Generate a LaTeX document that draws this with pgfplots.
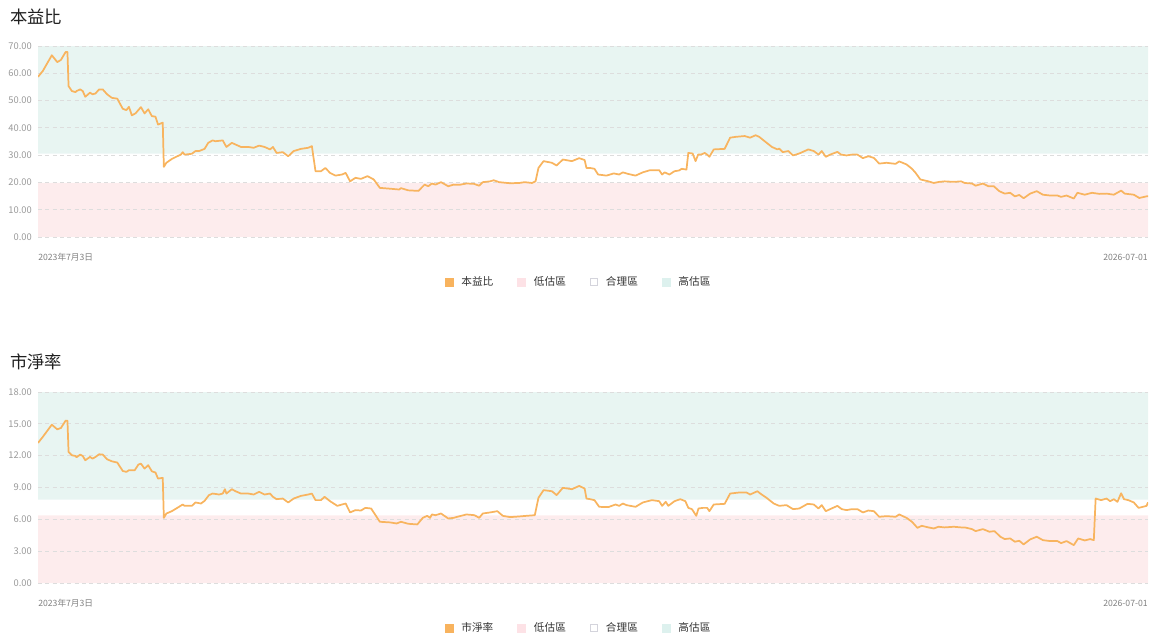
\documentclass[border=0pt]{standalone}
\usepackage{fontspec}
\setmainfont{Noto Sans CJK TC}
\usepackage{pgfplots}
\usepackage{pgfplotstable}
\pgfplotsset{compat=1.18}
\definecolor{lineorange}{HTML}{F8B45F}
\definecolor{greenband}{HTML}{E8F5F2}
\definecolor{pinkband}{HTML}{FDECED}
\definecolor{gridgray}{HTML}{DDDDDD}
\definecolor{tickgray}{HTML}{999999}
\definecolor{labgray}{HTML}{808080}
\definecolor{legtext}{HTML}{333333}
\definecolor{legorange}{HTML}{F8B35E}
\definecolor{legpink}{HTML}{FDE2E6}
\definecolor{leggreen}{HTML}{DDF1EE}
\definecolor{legborder}{HTML}{D4D4DC}

\pgfplotstableread{
x y
22 58.7
35 60.8
60 66.6
75 64.1
85 64.9
98 67.8
103 67.8
106 55.3
115 53.5
125 53.1
128 53.5
138 54.1
145 53.5
152 51.4
165 52.9
172 52.3
180 52.6
190 54.1
200 54.1
212 52.3
225 51.0
240 50.7
255 47.0
265 46.5
272 47.7
280 44.6
290 45.3
305 47.6
315 45.3
325 46.8
335 44.3
345 44.1
352 41.2
365 41.9
368 25.7
375 27.2
390 28.6
405 29.6
415 30.2
420 31.1
425 30.2
445 30.5
455 31.5
465 31.5
480 32.3
490 34.5
502 35.4
510 35.1
530 35.4
540 33.0
555 34.5
565 33.9
580 33.0
600 33.0
615 32.7
630 33.5
645 33.0
660 32.1
668 33.0
678 30.8
695 31.1
710 29.6
725 31.5
745 32.3
765 32.7
775 33.3
785 24.1
800 24.1
812 25.3
825 23.5
840 22.5
858 22.9
868 23.5
880 20.4
895 21.7
910 21.3
928 22.3
945 21.1
962 18.0
990 17.7
1015 17.4
1020 17.9
1040 17.1
1068 16.9
1085 19.2
1095 18.6
1105 19.6
1115 19.2
1130 20.1
1150 18.6
1165 19.2
1180 19.1
1200 19.6
1220 19.5
1235 18.8
1245 20.1
1265 20.4
1275 20.8
1290 20.1
1320 19.7
1345 19.8
1360 20.1
1380 19.8
1390 20.4
1398 25.3
1412 27.8
1435 27.2
1448 26.2
1465 28.4
1490 27.8
1510 28.9
1525 28.2
1530 25.3
1540 25.3
1552 25.0
1562 22.9
1585 22.5
1605 23.3
1620 22.9
1630 23.7
1645 23.1
1665 22.5
1685 23.7
1705 24.5
1730 24.5
1738 22.9
1745 23.7
1758 22.9
1772 24.1
1785 24.4
1792 25.0
1805 24.7
1810 30.8
1822 30.6
1830 27.8
1837 30.2
1845 30.2
1855 30.8
1862 30.2
1868 29.4
1880 32.1
1910 32.3
1925 36.4
1940 36.7
1965 37.0
1980 36.4
1995 37.3
2005 36.7
2020 35.1
2040 33.0
2055 32.1
2060 32.4
2070 31.1
2085 31.5
2098 29.9
2115 30.6
2140 32.1
2155 31.5
2168 30.2
2177 31.5
2188 29.4
2200 30.2
2220 31.2
2230 30.2
2245 29.9
2260 30.2
2275 30.2
2290 28.9
2305 29.6
2320 29.0
2335 26.9
2355 27.2
2380 26.8
2390 27.7
2410 26.6
2425 25.0
2435 23.5
2448 21.1
2470 20.4
2485 19.8
2500 20.2
2515 20.4
2540 20.2
2560 20.4
2570 19.8
2590 19.6
2600 18.8
2620 19.6
2635 18.6
2650 18.6
2665 16.8
2680 15.9
2695 16.2
2708 14.9
2720 15.4
2732 14.2
2750 15.9
2768 16.8
2785 15.5
2805 15.2
2825 15.2
2835 14.7
2850 15.2
2870 14.1
2880 16.2
2900 15.5
2920 16.2
2940 15.8
2960 15.9
2980 15.5
3000 17.0
3010 15.9
3035 15.5
3050 14.3
3070 14.9
3074 14.9
}\petable

\pgfplotstableread{
x y
22 13.2
35 13.76
60 14.92
75 14.48
85 14.61
98 15.3
103 15.3
106 12.35
115 12.04
125 11.97
128 11.85
138 12.1
145 11.97
152 11.57
165 11.88
172 11.72
180 11.88
190 12.13
200 12.1
212 11.66
225 11.47
240 11.35
255 10.56
265 10.47
272 10.63
288 10.63
298 11.16
305 11.25
315 10.78
325 11.1
335 10.53
345 10.41
352 9.84
365 9.91
368 6.14
375 6.55
390 6.77
405 7.08
420 7.4
425 7.27
445 7.27
455 7.59
470 7.49
480 7.74
492 8.28
502 8.43
520 8.34
530 8.43
536 8.84
540 8.43
555 8.84
565 8.65
580 8.43
600 8.43
615 8.34
630 8.59
645 8.34
660 8.43
668 8.12
678 7.9
695 7.96
710 7.59
725 7.96
745 8.21
765 8.34
775 8.43
785 7.81
800 7.81
810 8.12
825 7.71
845 7.27
858 7.4
868 7.49
880 6.65
895 6.87
910 6.83
922 7.08
938 7.02
950 6.39
962 5.77
990 5.71
1008 5.61
1020 5.77
1040 5.58
1065 5.52
1080 6.14
1092 6.33
1100 6.14
1105 6.46
1115 6.39
1130 6.55
1150 6.08
1165 6.14
1175 6.24
1200 6.46
1222 6.39
1235 6.14
1245 6.55
1265 6.65
1285 6.77
1300 6.33
1320 6.21
1345 6.27
1365 6.33
1388 6.39
1398 8.03
1412 8.75
1435 8.65
1448 8.28
1465 8.97
1490 8.84
1510 9.15
1525 8.9
1530 7.96
1540 7.9
1552 7.81
1565 7.18
1590 7.15
1610 7.4
1620 7.27
1630 7.49
1640 7.34
1665 7.18
1685 7.59
1710 7.81
1730 7.71
1738 7.27
1748 7.65
1755 7.27
1772 7.71
1788 7.9
1802 7.71
1810 7.08
1820 6.96
1832 6.33
1838 7.02
1850 7.08
1862 7.08
1868 6.77
1880 7.4
1910 7.46
1925 8.43
1950 8.53
1970 8.53
1980 8.34
2000 8.65
2008 8.43
2025 8.03
2045 7.49
2060 7.27
2080 7.34
2098 6.96
2115 7.02
2138 7.46
2155 7.4
2168 7.02
2177 7.34
2188 6.77
2200 6.96
2220 7.27
2232 6.96
2245 6.87
2260 6.96
2275 6.96
2290 6.65
2305 6.83
2320 6.77
2335 6.24
2355 6.3
2380 6.24
2390 6.46
2410 6.14
2425 5.77
2440 5.2
2452 5.39
2470 5.24
2485 5.14
2498 5.3
2515 5.24
2540 5.3
2560 5.24
2570 5.24
2590 5.08
2600 4.89
2620 5.08
2638 4.83
2652 4.89
2668 4.36
2680 4.14
2695 4.2
2708 3.89
2720 3.98
2732 3.64
2750 4.11
2768 4.36
2785 4.04
2805 3.95
2825 3.95
2835 3.76
2850 3.95
2870 3.57
2882 4.2
2900 4.01
2915 4.14
2925 4.04
2930 7.96
2945 7.81
2960 7.96
2970 7.71
2980 7.9
2990 7.65
3000 8.46
3008 7.9
3020 7.81
3035 7.59
3048 7.08
3060 7.18
3070 7.27
3074 7.6
}\pbtable

\pgfplotsset{
  valstyle/.style={
    scale only axis, width=832.5pt, height=143.25pt,
    xmin=22, xmax=3074, ymin=0,
    set layers, clip mode=individual,
    axis line style={draw=none},
    xtick=\empty,
    ymajorgrids,
    grid style={gridgray, line width=0.6pt, dash pattern=on 3pt off 2.5pt},
    major tick length=0pt,
    tick style={draw=none},
    yticklabel style={font=\fontsize{7}{8}\selectfont, text=tickgray, inner sep=0pt, anchor=east, xshift=-4.5pt,
      /pgf/number format/fixed, /pgf/number format/fixed zerofill, /pgf/number format/precision=2, /pgf/number format/assume math mode=true},
    legend columns=4,
    legend style={draw=none, fill=none, at={(0.4874,-0.2356)}, anchor=center,
      font=\fontsize{8}{9}\selectfont, text=legtext,
      /tikz/every odd column/.append style={column sep=4pt},
      /tikz/every even column/.append style={column sep=16pt}},
  },
  sqorange/.style={legend image code/.code={\fill[legorange] (0pt,-3pt) rectangle (6pt,3pt);}},
  sqpink/.style={legend image code/.code={\fill[legpink] (0pt,-3pt) rectangle (6pt,3pt);}},
  sqwhite/.style={legend image code/.code={\filldraw[fill=white, draw=legborder, line width=0.6pt] (0.3pt,-2.7pt) rectangle (5.7pt,2.7pt);}},
  sqgreen/.style={legend image code/.code={\fill[leggreen] (0pt,-3pt) rectangle (6pt,3pt);}},
}

\begin{document}
\begin{tikzpicture}

\node[anchor=west, inner sep=0pt, font=\fontsize{13}{15}\selectfont, text=black!88] at (7.5pt,467.25pt) {本益比};
\node[anchor=west, inner sep=0pt, font=\fontsize{13}{15}\selectfont, text=black!88] at (7.5pt,208.7pt) {市淨率};

\begin{axis}[valstyle, at={(28.5pt,302.25pt)}, anchor=south west,
  ymax=70, ytick={0,10,...,70},
  legend entries={本益比,低估區,合理區,高估區}]
  \addlegendimage{sqorange}
  \addlegendimage{sqpink}
  \addlegendimage{sqwhite}
  \addlegendimage{sqgreen}
  \addplot[forget plot, on layer=axis background, draw=none, fill=greenband] coordinates {(22,30.6) (3074,30.6) (3074,70) (22,70) (22,30.6)};
  \addplot[forget plot, on layer=axis background, draw=none, fill=pinkband] coordinates {(22,0) (3074,0) (3074,19.8) (22,19.8) (22,0)};
  \addplot[forget plot, lineorange, line width=1.3pt, line join=round] table[x=x, y=y] {\petable};
  \node[anchor=west, inner sep=0pt, font=\fontsize{6.5}{7}\selectfont, text=labgray, yshift=-15pt] at (rel axis cs:0,0) {2023年7月3日};
  \node[anchor=east, inner sep=0pt, font=\fontsize{6.5}{7}\selectfont, text=labgray, yshift=-15pt] at (rel axis cs:1,0) {2026-07-01};
\end{axis}

\begin{axis}[valstyle, at={(28.5pt,42.75pt)}, anchor=south west,
  ymax=18, ytick={0,3,...,18},
  legend entries={市淨率,低估區,合理區,高估區}]
  \addlegendimage{sqorange}
  \addlegendimage{sqpink}
  \addlegendimage{sqwhite}
  \addlegendimage{sqgreen}
  \addplot[forget plot, on layer=axis background, draw=none, fill=greenband] coordinates {(22,7.86) (3074,7.86) (3074,18) (22,18) (22,7.86)};
  \addplot[forget plot, on layer=axis background, draw=none, fill=pinkband] coordinates {(22,0) (3074,0) (3074,6.37) (22,6.37) (22,0)};
  \addplot[forget plot, lineorange, line width=1.3pt, line join=round] table[x=x, y=y] {\pbtable};
  \node[anchor=west, inner sep=0pt, font=\fontsize{6.5}{7}\selectfont, text=labgray, yshift=-15pt] at (rel axis cs:0,0) {2023年7月3日};
  \node[anchor=east, inner sep=0pt, font=\fontsize{6.5}{7}\selectfont, text=labgray, yshift=-15pt] at (rel axis cs:1,0) {2026-07-01};
\end{axis}

\pgfresetboundingbox
\path[use as bounding box] (0,0) rectangle (867.75pt,480pt);
\end{tikzpicture}
\end{document}
